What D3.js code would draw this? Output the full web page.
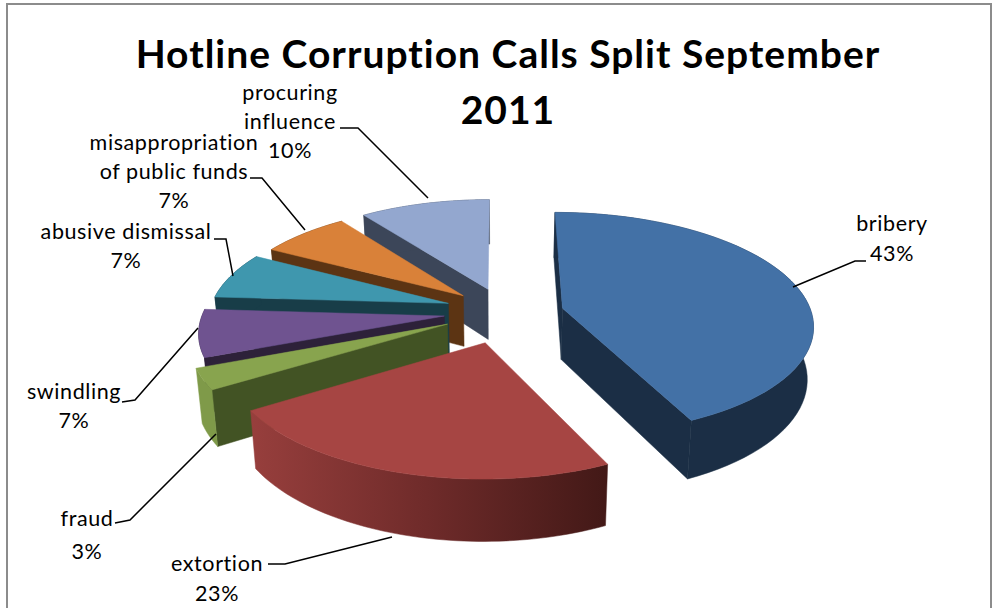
<!DOCTYPE html>
<html><head><meta charset="utf-8">
<script src="https://cdn.jsdelivr.net/npm/d3@7"></script>
<style>html,body{margin:0;background:#fff}svg{display:block}text{font-family:Lato,"Open Sans",sans-serif;fill:#000}</style>
</head><body><svg id="c" width="993" height="608"></svg>
<script>
const titleLines = ["Hotline Corruption Calls Split September", "2011"];
const categories = ["bribery","extortion","fraud","swindling","abusive dismissal","misappropriation of public funds","procuring influence"];
const values = [43,23,3,7,7,7,10];
const explodeX = [0.255,-0.058,-0.21,-0.225,-0.212,-0.152,-0.05];
const explodeY = [-0.09,0.218,0.055,-0.018,-0.135,-0.207,-0.27];
const radiusFactor = [1.01,1,1.015,0.98,0.97,0.975,0.985];
const topColors = ["#4371a6","#a64543","#88a44e","#6f5390","#3f97ae","#d98139","#93a7cf"];
const wallColors = ["#1b2e45","#7a2f2e","#7f9a49","#2d2139","#183d48","#5c3413","#3c4659"];
const faceColors = ["#1b2e45","#7a2f2e","#425324","#2d2139","#183d48","#5c3413","#3c4659"];
const labelLines = [["bribery","43%"],["extortion","23%"],["fraud","3%"],["swindling","7%"],["abusive dismissal","7%"],["misappropriation","of public funds","7%"],["procuring","influence","10%"]];
const labelAnchors = [[892,231],[217,571],[87,526],[74,399],[126,239],[174,150],[290,100]];
const labelSpacing = [30,30,33,29,29,29,29];
const leaders = [[[793,287],[855,261],[866,261]],[[392,537],[285,564],[268,564]],[[216,434],[130,520],[115,523]],[[198,328],[135,400],[122,402]],[[233,276],[226,239],[214,239]],[[305,230],[262,178],[250,178]],[[428,198],[358,128],[340,128]]];

const svg = d3.select("#c");
const cx=500, cy=318, R=248, tilt=0.136, k=0.445, depth=52, shrink=0.02;
const sx = d3.scaleLinear().domain([-1,1]).range([cx-R,cx+R]);
const sy = d3.scaleLinear().domain([-1,1]).range([cy-R*k,cy+R*k]);
const pie = d3.pie().value(d=>d).sort(null)(values);
const line = d3.line();

function P(a,r,i,z){
  const rr=r*radiusFactor[i];
  const X=explodeX[i]+rr*Math.sin(a), Y=explodeY[i]-rr*Math.cos(a);
  const p=1/(1-Y*tilt);
  return [cx+(sx(X)-cx)*p*(1-z*shrink), cy+(sy(Y)-cy)*p+z*depth*p];
}
const defs=svg.append("defs");
const g=defs.append("linearGradient").attr("id","extWall").attr("gradientUnits","userSpaceOnUse")
  .attr("x1",248).attr("x2",605).attr("y1",0).attr("y2",0);
g.append("stop").attr("offset",0).attr("stop-color","#983f3d");
g.append("stop").attr("offset",0.5).attr("stop-color","#6f2b2a");
g.append("stop").attr("offset",1).attr("stop-color","#431917");

svg.append("rect").attr("x",7).attr("y",4).attr("width",984).attr("height",640)
  .attr("fill","#fff").attr("stroke","#8c8c8c").attr("stroke-width",2);

// back to front
const order=[6,5,4,3,2,0,1];
order.forEach(i=>{
  const d=pie[i];
  const arc=z=>d3.range(0,61).map(j=>P(d.startAngle+(d.endAngle-d.startAngle)*j/60,1,i,z));
  const apex=z=>P(0,0,i,z);
  const top=arc(0), bot=arc(1);
  const G=svg.append("g").attr("class","slice");
  const wall=i===1?"url(#extWall)":wallColors[i];
  const draw=(pts,fill)=>G.append("path").attr("d",line(pts)+"Z").attr("fill",fill).attr("stroke",fill).attr("stroke-width",0.5);
  // only the radial cuts that face the viewer are painted
  if(Math.sin(d.startAngle)<1e-6) draw([top[0],apex(0),apex(1),bot[0]],faceColors[i]);
  if(Math.sin(d.endAngle)>1e-6) draw([top[60],apex(0),apex(1),bot[60]],faceColors[i]);
  draw(top.concat(bot.slice().reverse()),wall);
  draw([apex(0)].concat(top),topColors[i]);
});

svg.append("g").selectAll("path").data(leaders).join("path")
  .attr("d",d=>line(d)).attr("fill","none").attr("stroke","#000").attr("stroke-width",1.5);

const tt=svg.append("g").attr("font-size",39).attr("font-weight",700).attr("text-anchor","middle").attr("letter-spacing",1);
titleLines.forEach((t,i)=>tt.append("text").attr("x",508).attr("y",68+i*56).text(t));

const lh=svg.append("g").attr("font-size",21.5).attr("letter-spacing",0.6).attr("text-anchor","middle");
labelLines.forEach((ls,i)=>ls.forEach((t,j)=>lh.append("text")
  .attr("x",labelAnchors[i][0]).attr("y",labelAnchors[i][1]+j*labelSpacing[i]).text(t)));
</script></body></html>
